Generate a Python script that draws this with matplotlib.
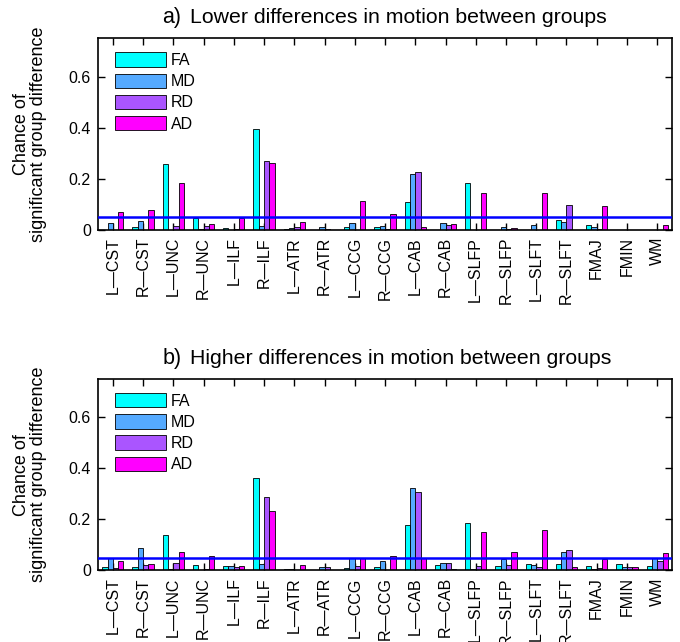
import numpy as np
import matplotlib
matplotlib.use('Agg')
import matplotlib.pyplot as plt

plt.rcParams['font.family'] = ['Liberation Sans', 'DejaVu Sans']

# Tract names along the x axis
tracts = ['L—CST', 'R—CST', 'L—UNC', 'R—UNC', 'L—ILF', 'R—ILF', 'L—ATR', 'R—ATR',
          'L—CCG', 'R—CCG', 'L—CAB', 'R—CAB', 'L—SLFP', 'R—SLFP', 'L—SLFT', 'R—SLFT',
          'FMAJ', 'FMIN', 'WM']
measures = ['FA', 'MD', 'RD', 'AD']
colors = ['#00ffff', '#55aaff', '#aa55ff', '#ff00ff']
threshold = 0.05

# a) lower differences in motion
low_fa = [0.002, 0.013, 0.260, 0.048, 0.009, 0.395, 0.005, 0.002, 0.013, 0.010,
          0.110, 0.002, 0.183, 0.002, 0.002, 0.038, 0.018, 0.002, 0.002]
low_md = [0.026, 0.035, 0.002, 0.003, 0.002, 0.014, 0.007, 0.010, 0.026, 0.014,
          0.218, 0.029, 0.002, 0.010, 0.021, 0.031, 0.010, 0.002, 0.002]
low_rd = [0.002, 0.002, 0.014, 0.014, 0.003, 0.270, 0.010, 0.005, 0.002, 0.003,
          0.227, 0.018, 0.002, 0.005, 0.002, 0.098, 0.005, 0.002, 0.002]
low_ad = [0.072, 0.077, 0.183, 0.022, 0.048, 0.261, 0.031, 0.002, 0.112, 0.061,
          0.010, 0.024, 0.144, 0.009, 0.144, 0.002, 0.095, 0.002, 0.020]

# b) higher differences in motion
high_fa = [0.012, 0.012, 0.139, 0.021, 0.016, 0.361, 0.005, 0.003, 0.008, 0.013,
           0.178, 0.020, 0.184, 0.016, 0.024, 0.024, 0.017, 0.024, 0.016]
high_md = [0.050, 0.086, 0.005, 0.003, 0.017, 0.024, 0.006, 0.013, 0.050, 0.035,
           0.322, 0.027, 0.004, 0.043, 0.020, 0.071, 0.005, 0.014, 0.050]
high_rd = [0.008, 0.022, 0.029, 0.005, 0.013, 0.288, 0.002, 0.012, 0.017, 0.003,
           0.305, 0.030, 0.016, 0.020, 0.012, 0.078, 0.009, 0.013, 0.035]
high_ad = [0.037, 0.026, 0.071, 0.055, 0.016, 0.234, 0.021, 0.003, 0.048, 0.055,
           0.050, 0.004, 0.150, 0.071, 0.156, 0.012, 0.043, 0.012, 0.068]

panels = [
    ('a)', 'Lower differences in motion between groups', [low_fa, low_md, low_rd, low_ad]),
    ('b)', 'Higher differences in motion between groups', [high_fa, high_md, high_rd, high_ad]),
]

fig = plt.figure(figsize=(6.8, 6.42), dpi=100)
axes_rects = [[0.1437, 0.6417, 0.845, 0.2986], [0.1437, 0.1117, 0.845, 0.298]]

x = np.arange(1, len(tracts) + 1)
bw = 0.176

for (tag, title, series), rect in zip(panels, axes_rects):
    ax = fig.add_axes(rect)
    for i, (vals, c, m) in enumerate(zip(series, colors, measures)):
        ax.bar(x + (i - 1.5) * bw, vals, width=bw, color=c, edgecolor='black',
               linewidth=0.6, label=m, zorder=2)
    ax.axhline(threshold, color='#0000ff', linewidth=1.8, zorder=3)

    ax.set_xlim(0.5, len(tracts) + 0.5)
    ax.set_ylim(0, 0.75)
    ax.set_yticks([0, 0.2, 0.4, 0.6])
    ax.set_yticklabels(['0', '0.2', '0.4', '0.6'])
    ax.set_xticks(x)
    ax.set_xticklabels(tracts, rotation=90, fontsize=12)
    ax.tick_params(direction='in', top=True, right=True, length=5, width=1,
                   labelsize=11.5, pad=5)
    for s in ax.spines.values():
        s.set_linewidth(1.2)
    ax.set_ylabel('Chance of\nsignificant group difference', fontsize=13,
                  linespacing=1.05)
    ax.yaxis.set_label_coords(-0.088, 0.5)

    ax.text(0.146, 1.078, tag, transform=ax.transAxes, ha='right', va='baseline',
            fontsize=15.5)
    ax.text(0.160, 1.078, title, transform=ax.transAxes, ha='left', va='baseline',
            fontsize=15.3)

    ax.legend(loc='upper left', frameon=False, fontsize=11.5, handlelength=3.2,
              handleheight=1.0, labelspacing=0.35, handletextpad=0.3,
              borderaxespad=0.3, bbox_to_anchor=(0.011, 0.985))

fig.savefig('out.png', dpi=100)
